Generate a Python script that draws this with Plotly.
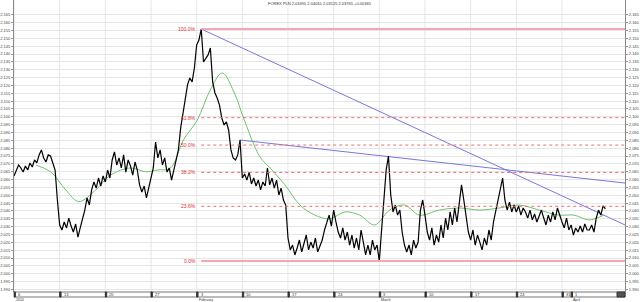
import plotly.graph_objects as go

# ---------------- data ----------------
title_text = "FOREX PLN 2.03495 2.04010 2.03125 2.03765 +0.00365"
bars_per_day = 4  # 6h bars, x axis in trading days from Mon 6 Jan 2014

close = [
    2.0623, 2.0661, 2.0693, 2.0674,  2.0648, 2.0687, 2.0661, 2.0706,
    2.0680, 2.0725, 2.0706, 2.0757,  2.0789, 2.0738, 2.0712, 2.0757,
    2.0750, 2.0706, 2.0661, 2.0470,  2.0311, 2.0279, 2.0330, 2.0292,
    2.0355, 2.0304, 2.0266, 2.0317,  2.0234, 2.0292, 2.0343, 2.0406,
    2.0483, 2.0438, 2.0534, 2.0585,  2.0546, 2.0610, 2.0559, 2.0623,
    2.0585, 2.0661, 2.0610, 2.0725,  2.0776, 2.0693, 2.0738, 2.0674,
    2.0757, 2.0648, 2.0725, 2.0687,  2.0629, 2.0712, 2.0661, 2.0566,
    2.0521, 2.0559, 2.0483, 2.0546,  2.0629, 2.0674, 2.0839, 2.0738,
    2.0789, 2.0693, 2.0738, 2.0648,  2.0674, 2.0597, 2.0661, 2.0725,
    2.0789, 2.0929, 2.1031, 2.1107,  2.1203, 2.1247, 2.1222, 2.1311,
    2.1457, 2.1489, 2.1559, 2.1349,  2.1375, 2.1394, 2.1438, 2.1222,
    2.1152, 2.1120, 2.1075, 2.0992,  2.0948, 2.0967, 2.0916, 2.0789,
    2.0738, 2.0725, 2.0757, 2.0852,  2.0610, 2.0636, 2.0597, 2.0648,
    2.0572, 2.0610, 2.0559, 2.0597,  2.0534, 2.0585, 2.0559, 2.0674,
    2.0566, 2.0610, 2.0546, 2.0597,  2.0502, 2.0546, 2.0470, 2.0438,
    2.0228, 2.0152, 2.0183, 2.0120,  2.0164, 2.0215, 2.0139, 2.0190,
    2.0247, 2.0152, 2.0202, 2.0164,  2.0228, 2.0139, 2.0183, 2.0215,
    2.0279, 2.0330, 2.0374, 2.0304,  2.0406, 2.0330, 2.0266, 2.0228,
    2.0292, 2.0215, 2.0266, 2.0183,  2.0247, 2.0164, 2.0228, 2.0152,
    2.0279, 2.0202, 2.0120, 2.0183,  2.0120, 2.0215, 2.0152, 2.0183,
    2.0081, 2.0279, 2.0502, 2.0661,  2.0750, 2.0502, 2.0394, 2.0438,
    2.0374, 2.0406, 2.0266, 2.0183,  2.0139, 2.0183, 2.0120, 2.0215,
    2.0164, 2.0202, 2.0406, 2.0470,  2.0374, 2.0266, 2.0215, 2.0292,
    2.0183, 2.0247, 2.0202, 2.0311,  2.0228, 2.0355, 2.0279, 2.0394,
    2.0311, 2.0419, 2.0330, 2.0470,  2.0566, 2.0470, 2.0374, 2.0266,
    2.0215, 2.0279, 2.0183, 2.0247,  2.0202, 2.0152, 2.0228, 2.0183,
    2.0279, 2.0215, 2.0330, 2.0406,  2.0483, 2.0559, 2.0610, 2.0470,
    2.0406, 2.0457, 2.0394, 2.0438,  2.0394, 2.0432, 2.0374, 2.0419,
    2.0394, 2.0355, 2.0406, 2.0343,  2.0381, 2.0330, 2.0368, 2.0406,
    2.0355, 2.0311, 2.0374, 2.0330,  2.0394, 2.0343, 2.0419, 2.0368,
    2.0330, 2.0292, 2.0355, 2.0279,  2.0311, 2.0247, 2.0292, 2.0266,
    2.0304, 2.0266, 2.0317, 2.0279,  2.0279, 2.0311, 2.0266, 2.0355,
    2.0406, 2.0374, 2.0432, 2.0413,
]

ma_days = [2.40, 4.04, 5.67, 7.09, 8.95, 10.58, 12.76, 14.40, 15.71, 17.13, 18.55, 20.07,
           21.49, 22.80, 24.22, 25.09, 26.94, 28.04, 29.67, 31.31, 32.94, 34.58, 36.22,
           37.85, 39.49, 41.13, 42.76, 44.40, 46.58, 48.76, 50.94, 53.13, 55.31, 57.49,
           59.67, 61.31, 62.94, 64.58]
ma_vals = [2.0693, 2.0648, 2.0534, 2.0460, 2.0534, 2.0629, 2.0674, 2.0650, 2.0661, 2.0674,
           2.0852, 2.0980, 2.1171, 2.1279, 2.1139, 2.0999, 2.0744, 2.0674, 2.0566, 2.0438,
           2.0374, 2.0350, 2.0394, 2.0374, 2.0311, 2.0406, 2.0438, 2.0374, 2.0406, 2.0419,
           2.0406, 2.0419, 2.0438, 2.0406, 2.0374, 2.0374, 2.0343, 2.0374]

# trend lines: start at a bar index, end value at the right edge
trend1_start_bar, trend1_end_val = 82, 2.0311
trend2_start_bar, trend2_end_val = 99, 2.0578

fib_levels = [1.0, 0.618, 0.5, 0.382, 0.236, 0.0]
fib_labels = ["100.0%", "61.8%", "50.0%", "38.2%", "23.6%", "0.0%"]

week_ticks = [0, 5, 10, 15, 20, 25, 30, 35, 40, 45, 50, 55, 60, 61]
week_text = ["6", "13", "20", "27", "3", "10", "17", "24", "3", "10", "17", "24", "31", "1"]
month_ticks = [0, 20, 40, 61]
month_text = ["2014", "February", "March", "April"]

y_ticks = [round(1.990 + 0.005 * k, 3) for k in range(36)]
x_range = [0, 66.9]
y_range = [1.9884, 2.1744]

# ---------------- figure ----------------
days = [i / bars_per_day for i in range(len(close))]
fig = go.Figure()

grid_col = "#e6e6e6"
for d in week_ticks[:-1]:
    fig.add_shape(type="line", xref="x", yref="paper", x0=d, x1=d, y0=0, y1=1,
                  line=dict(color=grid_col, width=1), layer="below")

hi = max(close)
lo = min(close)
hi_day = days[close.index(hi)]
for lv, lab in zip(fib_levels, fib_labels):
    val = lo + (hi - lo) * lv
    solid = lv in (0.0, 1.0)
    fig.add_shape(type="line", xref="x", yref="y", x0=hi_day, x1=x_range[1], y0=val, y1=val,
                  line=dict(color="#f4a7b0" if solid else "#f07070",
                            width=2 if solid else 1, dash="solid" if solid else "dot"))
    fig.add_annotation(x=hi_day, y=val, xref="x", yref="y", text=lab, showarrow=False,
                       xanchor="right", yanchor="middle", xshift=-3,
                       font=dict(size=5, color="#e03030", family="Liberation Sans"))

for sb, ev in [(trend1_start_bar, trend1_end_val), (trend2_start_bar, trend2_end_val)]:
    fig.add_trace(go.Scatter(x=[days[sb], x_range[1]], y=[close[sb], ev], mode="lines",
                             line=dict(color="#7878dc", width=1), hoverinfo="skip"))

fig.add_trace(go.Scatter(x=ma_days, y=ma_vals, mode="lines",
                         line=dict(color="#70c070", width=1, shape="spline"), hoverinfo="skip"))
fig.add_trace(go.Scatter(x=days, y=close, mode="lines", line=dict(color="black", width=1.2)))
fig.add_trace(go.Scatter(x=[days[0]], y=[close[0]], yaxis="y2", mode="markers",
                         marker=dict(opacity=0), hoverinfo="skip"))

axfont = dict(size=4, color="#444", family="Liberation Sans")
fig.update_layout(
    width=640, height=302, margin=dict(l=13, r=14, t=0, b=10),
    plot_bgcolor="white", paper_bgcolor="white", showlegend=False,
    xaxis=dict(range=x_range, showgrid=False, zeroline=False, showticklabels=False,
               showline=False, ticks=""),
    yaxis=dict(range=y_range, tickvals=y_ticks, tickformat=".3f", showgrid=True,
               gridcolor=grid_col, gridwidth=1, zeroline=False, showline=True,
               linecolor="#888", linewidth=1, ticks="outside", ticklen=2, tickcolor="#999",
               tickfont=axfont),
    yaxis2=dict(range=y_range, tickvals=y_ticks, tickformat=".3f", overlaying="y", side="right",
                showgrid=False, zeroline=False, showline=True, linecolor="#888", linewidth=1,
                ticks="outside", ticklen=2, tickcolor="#999", tickfont=axfont),
)

fig.add_annotation(x=0.5, y=1, xref="paper", yref="paper", text=title_text, showarrow=False,
                   xanchor="center", yanchor="top", yshift=1,
                   font=dict(size=4, color="#333", family="Liberation Sans"))

band_h = 5 / 292
fig.add_shape(type="rect", xref="paper", yref="paper", x0=0, x1=1, y0=-band_h, y1=0,
              line=dict(color="#777", width=1), fillcolor="white")
for d, t in zip(week_ticks, week_text):
    fig.add_shape(type="rect", xref="x", yref="paper", x0=d, x1=d + 0.15, y0=-band_h, y1=0,
                  line=dict(color="#333", width=1), fillcolor="#333")
    fig.add_annotation(x=d, y=-band_h / 2, xref="x", yref="paper", text=t, showarrow=False,
                       xanchor="left", yanchor="middle", xshift=2,
                       font=dict(size=4, color="#333", family="Liberation Sans"))
for d, t in zip(month_ticks, month_text):
    fig.add_annotation(x=d, y=-band_h, xref="x", yref="paper", text=t, showarrow=False,
                       xanchor="left", yanchor="top", yshift=1,
                       font=dict(size=3.5, color="#333", family="Liberation Sans"))
fig.add_shape(type="rect", xref="paper", yref="paper", x0=(618 - 13) / 613, x1=1, y0=-band_h, y1=0,
              line=dict(color="#333", width=1), fillcolor="#555")

fig.write_html("out.html")
